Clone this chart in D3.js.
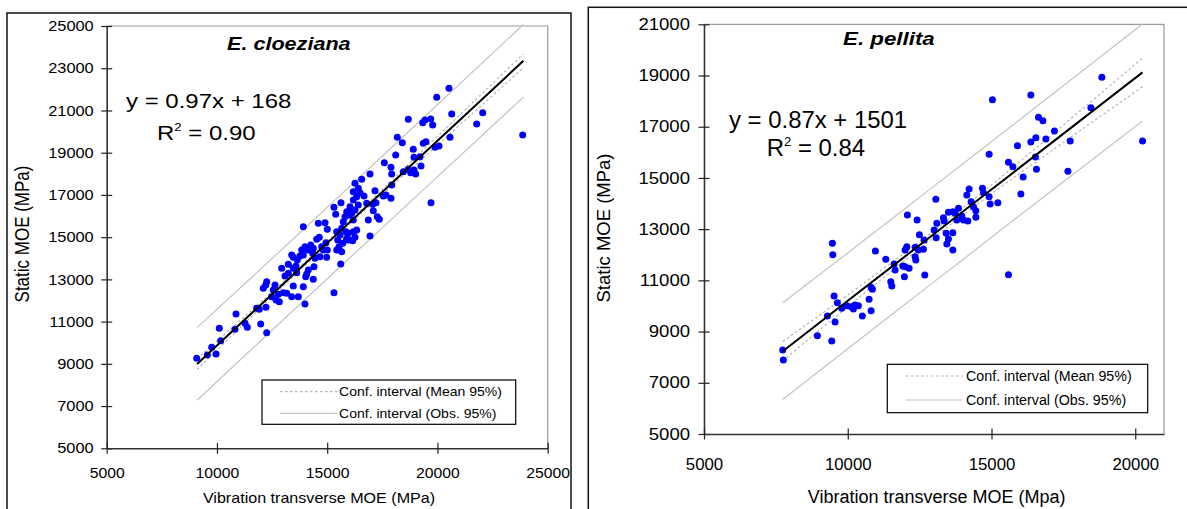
<!DOCTYPE html>
<html>
<head>
<meta charset="utf-8">
<script src="https://cdn.jsdelivr.net/npm/d3@7"></script>
<style>
  body { margin: 0; background: #fff; }
  svg { display: block; font-family: "Liberation Sans", Arial, sans-serif; }
</style>
</head>
<body>
<div id="chart"></div>
<script>
// ---- data ----
const cloezianaPoints = [
  [9082,9262],[9562,9419],[9762,9783],[9957,9466],[10106,10683],[10170,10096],[10864,11360],[10818,10636],
  [11272,10920],[11376,10731],[11803,11630],[11920,11583],[11984,10887],[12256,10475],[12224,11678],[12102,12578],
  [12211,12734],[12256,12890],[12632,12734],[12555,12497],[12483,12180],[12678,12023],[12782,12293],[12827,11943],
  [13163,12341],[13390,12180],[13689,12180],[13993,11834],[13916,12653],[15308,12369],[14369,13004],[14025,13127],
  [14070,13255],[13617,13316],[13086,13160],[13236,13288],[12936,13525],[13236,13714],[13462,13525],[13585,13634],
  [13644,13918],[13766,14107],[13916,14155],[13843,14391],[13993,14548],[13390,14155],[13462,14046],[13916,15495],
  [14143,14391],[14251,14628],[14369,14472],[14342,14235],[14446,13998],[14401,13601],[14524,14898],[14641,14993],
  [14750,14548],[14823,14391],[14945,14737],[14977,14046],[15004,14391],[14596,15656],[14900,15684],[15004,15372],
  [15308,16414],[15385,16082],[15625,16632],[15431,15258],[15580,15102],[15476,14865],[15535,14548],[15431,14391],
  [15612,13728],[15884,14946],[15957,15182],[16034,14865],[16183,15258],[16260,14993],[16156,14832],[15730,15732],
  [15807,15969],[15884,16205],[16002,16049],[16111,16130],[16260,16286],[16410,16523],[16338,16916],[16183,17153],
  [16260,17550],[16338,15339],[20523,22050],[19966,21623],[20646,20832],[22052,20894],[21780,20359],[23866,19838],
  [18678,20581],[19331,20420],[19435,20548],[19693,20596],[19784,20311],[18179,19729],[18405,19473],[20569,19729],
  [19358,19445],[19480,19521],[19888,19255],[20070,19317],[18904,19161],[18106,18891],[18936,18782],[19208,18810],
  [19254,18370],[17589,18526],[17893,18308],[17925,17991],[16941,17991],[18451,18100],[18678,18213],[18786,18052],
  [19013,17991],[18936,18180],[16564,17740],[17925,17470],[17167,17200],[17544,16949],[17893,16840],[17666,16996],
  [16410,17314],[16487,17105],[16669,16949],[16791,16603],[17063,16556],[17213,16632],[17090,16253],[17272,15969],
  [17362,15845],[16864,15812],[16183,16760],[16034,16442],[16183,15812],[19707,16632],[16941,15054],[15657,15419],
  [15852,15258],[15884,14865],[15703,14709],[15657,14311],[13009,12369],[13462,12687],[14143,13444],[14673,14074]
];

const pellitaPoints = [
  [7739,8280],[7760,7890],[8943,8839],[9444,8632],[9559,9374],[9291,9608],[9465,12447],[9479,12002],
  [9524,10389],[9639,10127],[9792,9909],[9966,10010],[10116,9971],[10196,9881],[10255,10037],[10370,10010],
  [10509,9608],[10812,9815],[10742,10260],[10812,10729],[10857,10650],[10961,12146],[11323,11822],[11497,10947],
  [11532,10779],[11612,11639],[11647,11404],[11915,11560],[11995,11533],[12134,11471],[11970,11143],[11995,12185],
  [12054,12314],[12075,13552],[12367,11795],[12343,11924],[12412,13357],[12492,12783],[12343,12291],[12458,12185],
  [12632,12213],[12680,11209],[12656,12576],[13063,14165],[13004,12966],[13074,12665],[13098,13228],[13328,13447],
  [13352,13318],[13502,13657],[13655,13681],[13735,13618],[13422,12837],[13446,12420],[13502,12615],[13655,12185],
  [13655,12861],[13794,13357],[13850,13814],[13968,13513],[14024,13357],[14177,13318],[14222,14567],[14142,14333],
  [14292,14071],[14372,13876],[14455,13720],[14455,13462],[14685,14595],[14720,14423],[14918,14267],[14953,13982],
  [15221,14032],[14918,15922],[15033,18054],[15590,15610],[15743,15438],[15590,11221],[15903,16258],[16021,14372],
  [16101,15036],[16369,18238],[16369,16403],[16543,16570],[16891,16520],[16529,15817],[16564,15337],[16634,17367],
  [16787,17234],[17190,16832],[17657,15258],[17737,16442],[18457,17742],[18840,18929],[20253,16442]
];

// fitted line and confidence bands, sampled along x
const cloezianaBandX = [9100, 12000, 15500, 19000, 23900];
const cloezianaFit = [8995, 11808, 15203, 18598, 23351];
const cloezianaMeanLo = [8735, 11678, 15123, 18428, 23021];
const cloezianaMeanHi = [9255, 11938, 15283, 18768, 23681];
const cloezianaObsLo = [7275, 10108, 13513, 16898, 21631];
const cloezianaObsHi = [10715, 13508, 16893, 20298, 25071];

const pellitaBandX = [7739, 10000, 13000, 16000, 20253];
const pellitaFit = [8234, 10201, 12811, 15421, 19121];
const pellitaMeanLo = [7854, 9971, 12681, 15191, 18561];
const pellitaMeanHi = [8614, 10431, 12941, 15651, 19681];
const pellitaObsLo = [6344, 8331, 10941, 13551, 17221];
const pellitaObsHi = [10124, 12071, 14681, 17291, 21011];

const cloezianaXTicks = [5000, 10000, 15000, 20000, 25000];
const cloezianaYTicks = [5000, 7000, 9000, 11000, 13000, 15000, 17000, 19000, 21000, 23000, 25000];
const pellitaXTicks = [5000, 10000, 15000, 20000];
const pellitaYTicks = [5000, 7000, 9000, 11000, 13000, 15000, 17000, 19000, 21000];

const legendLabels = ["Conf. interval (Mean 95%)", "Conf. interval (Obs. 95%)"];

const svg = d3.select("#chart").append("svg")
    .attr("width", 1187)
    .attr("height", 509);

svg.append("rect").attr("width", 1187).attr("height", 509).attr("fill", "#fff");

// text with a horizontal stretch, like the original scaled picture
function label(g, x, y, str, size, sx, anchor, extra) {
    const t = g.append("text")
        .attr("transform", `translate(${x},${y}) scale(${sx},1)`)
        .attr("text-anchor", anchor || "start")
        .style("font-size", size + "px")
        .attr("fill", "#000")
        .text(str);
    if (extra) extra(t);
    return t;
}

function drawPanel(c) {
    // outer frame
    svg.append("rect")
        .attr("x", c.frame[0]).attr("y", c.frame[1])
        .attr("width", c.frame[2]).attr("height", c.frame[3])
        .attr("fill", "none").attr("stroke", "#111").attr("stroke-width", 1.5);

    const x = d3.scaleLinear().domain(c.xDomain).range([c.left, c.right]);
    const y = d3.scaleLinear().domain(c.yDomain).range([c.bottom, c.top]);
    const g = svg.append("g");

    // plot-area border (top/right, light grey)
    g.append("path")
        .attr("d", `M${c.left},${c.top}H${c.right}V${c.bottom}`)
        .attr("fill", "none").attr("stroke", "#9a9a9a").attr("stroke-width", 1.2);

    // bands
    const lineGen = (ys) => d3.line()
        .x((d, i) => x(c.bandX[i]))
        .y(d => y(d))
        .curve(d3.curveNatural)(ys);

    [c.obsLo, c.obsHi].forEach(arr => {
        g.append("path").attr("d", lineGen(arr))
            .attr("fill", "none").attr("stroke", "#c4c4c4").attr("stroke-width", 1.2);
    });
    [c.meanLo, c.meanHi].forEach(arr => {
        g.append("path").attr("d", lineGen(arr))
            .attr("fill", "none").attr("stroke", "#b4b4b4").attr("stroke-width", 1.2)
            .attr("stroke-dasharray", "2.5,2.5");
    });

    // points
    g.append("g")
        .selectAll("circle")
        .data(c.points)
        .join("circle")
        .attr("cx", d => x(d[0]))
        .attr("cy", d => y(d[1]))
        .attr("r", c.r)
        .attr("fill", "#0000ff");

    // fitted line
    g.append("path").attr("d", lineGen(c.fit))
        .attr("fill", "none").attr("stroke", "#000").attr("stroke-width", 2);

    // axes
    const yAxis = g.append("g")
        .attr("transform", `translate(${c.left},0)`)
        .call(d3.axisLeft(y).tickValues(c.yTicks).tickSizeInner(c.tick).tickSizeOuter(0).tickFormat(d3.format("d")));
    yAxis.selectAll(".tick line").attr("x1", c.tick).attr("stroke", "#222").attr("stroke-width", 1.2);
    yAxis.selectAll(".tick text")
        .attr("x", -c.yLabOff / c.yTickSx)
        .attr("transform", `scale(${c.yTickSx},1)`)
        .attr("fill", "#000")
        .style("font-size", c.yTickSize + "px");

    const xAxis = g.append("g")
        .attr("transform", `translate(0,${c.bottom})`)
        .call(d3.axisBottom(x).tickValues(c.xTicks).tickSizeInner(c.tick).tickSizeOuter(0).tickFormat(d3.format("d")));
    xAxis.selectAll(".tick line").attr("y1", -c.tick).attr("stroke", "#222").attr("stroke-width", 1.2);
    xAxis.selectAll(".tick text")
        .attr("y", c.xLabOff)
        .attr("transform", `scale(${c.xTickSx},1)`)
        .attr("fill", "#000")
        .style("font-size", c.xTickSize + "px");

    [yAxis, xAxis].forEach(a => a.select(".domain").attr("stroke", "#333").attr("stroke-width", 1.6));
    g.selectAll(".tick text").style("font-family", "'Liberation Sans', Arial, sans-serif");

    // titles
    label(g, c.titlePos[0], c.titlePos[1], c.title, c.titleSize, c.titleSx, "start",
        t => t.style("font-weight", "bold").style("font-style", "italic"));

    label(g, c.eqPos[0], c.eqPos[1], c.equation, c.eqSize, c.eqSx);
    label(g, c.r2Pos[0], c.r2Pos[1], "R", c.eqSize, c.eqSx, "start", t => {
        t.append("tspan").attr("dy", -0.45 * c.eqSize).style("font-size", (c.eqSize * 0.55) + "px").text("2");
        t.append("tspan").attr("dy", 0.45 * c.eqSize).text(" = " + c.r2);
    });

    // axis titles
    label(g, c.xTitlePos[0], c.xTitlePos[1], c.xTitle, c.xTitleSize, c.xTitleSx, "middle");
    g.append("text")
        .attr("transform", `translate(${c.yTitlePos[0]},${c.yTitlePos[1]}) rotate(-90) scale(1,${c.yTitleSy})`)
        .attr("text-anchor", "middle")
        .style("font-size", c.yTitleSize + "px")
        .text("Static MOE (MPa)");

    // legend
    const L = c.legend;
    g.append("rect").attr("x", L.x).attr("y", L.y).attr("width", L.w).attr("height", L.h)
        .attr("fill", "#fff").attr("stroke", "#000").attr("stroke-width", 1.2);
    legendLabels.forEach((s, i) => {
        const yy = L.rows[i];
        g.append("line").attr("x1", L.lx1).attr("x2", L.lx2).attr("y1", yy).attr("y2", yy)
            .attr("stroke", i === 0 ? "#b4b4b4" : "#c4c4c4").attr("stroke-width", 1.2)
            .attr("stroke-dasharray", i === 0 ? "2.5,2.5" : null);
        label(g, L.tx, yy + L.size * 0.36, s, L.size, L.sx);
    });
}

drawPanel({
    frame: [7, 13, 564, 520],
    left: 106.7, right: 547.7, top: 26, bottom: 448.3,
    xDomain: [5000, 25000], yDomain: [5000, 25000],
    points: cloezianaPoints, r: 3.5,
    bandX: cloezianaBandX, fit: cloezianaFit,
    meanLo: cloezianaMeanLo, meanHi: cloezianaMeanHi, obsLo: cloezianaObsLo, obsHi: cloezianaObsHi,
    xTicks: cloezianaXTicks, yTicks: cloezianaYTicks, tick: 5.5,
    yTickSize: 14.5, yTickSx: 1.13, yLabOff: 13,
    xTickSize: 15, xTickSx: 1.05, xLabOff: 19,
    title: "E. cloeziana", titlePos: [227, 50], titleSize: 18, titleSx: 1.2,
    equation: "y = 0.97x + 168", eqPos: [126, 108], eqSize: 20, eqSx: 1.2,
    r2: "0.90", r2Pos: [157, 140],
    xTitle: "Vibration transverse MOE (MPa)", xTitlePos: [319, 503], xTitleSize: 14, xTitleSx: 1.15,
    yTitlePos: [29, 234], yTitleSize: 17, yTitleSy: 1.2,
    legend: { x: 262, y: 380, w: 253.7, h: 44.3, lx1: 280, lx2: 337, tx: 339,
              rows: [391.7, 413.3], size: 13, sx: 1.08 }
});

drawPanel({
    frame: [588.3, 7.3, 640, 540],
    left: 704, right: 1164, top: 24.3, bottom: 434,
    xDomain: [5000, 21000], yDomain: [5000, 21000],
    points: pellitaPoints, r: 3.5,
    bandX: pellitaBandX, fit: pellitaFit,
    meanLo: pellitaMeanLo, meanHi: pellitaMeanHi, obsLo: pellitaObsLo, obsHi: pellitaObsHi,
    xTicks: pellitaXTicks, yTicks: pellitaYTicks, tick: 5.5,
    yTickSize: 16, yTickSx: 1.16, yLabOff: 14,
    xTickSize: 16, xTickSx: 1.05, xLabOff: 24.5,
    title: "E. pellita", titlePos: [843, 45], titleSize: 18, titleSx: 1.24,
    equation: "y = 0.87x + 1501", eqPos: [729, 128.3], eqSize: 23, eqSx: 1.04,
    r2: "0.84", r2Pos: [766.7, 156],
    xTitle: "Vibration transverse MOE (Mpa)", xTitlePos: [936.7, 503], xTitleSize: 18, xTitleSx: 1.0,
    yTitlePos: [610, 228], yTitleSize: 18.5, yTitleSy: 1.0,
    legend: { x: 887.3, y: 364.3, w: 260.4, h: 48.4, lx1: 906, lx2: 962.7, tx: 966,
              rows: [376, 400], size: 14, sx: 1.02 }
});
</script>
</body>
</html>
